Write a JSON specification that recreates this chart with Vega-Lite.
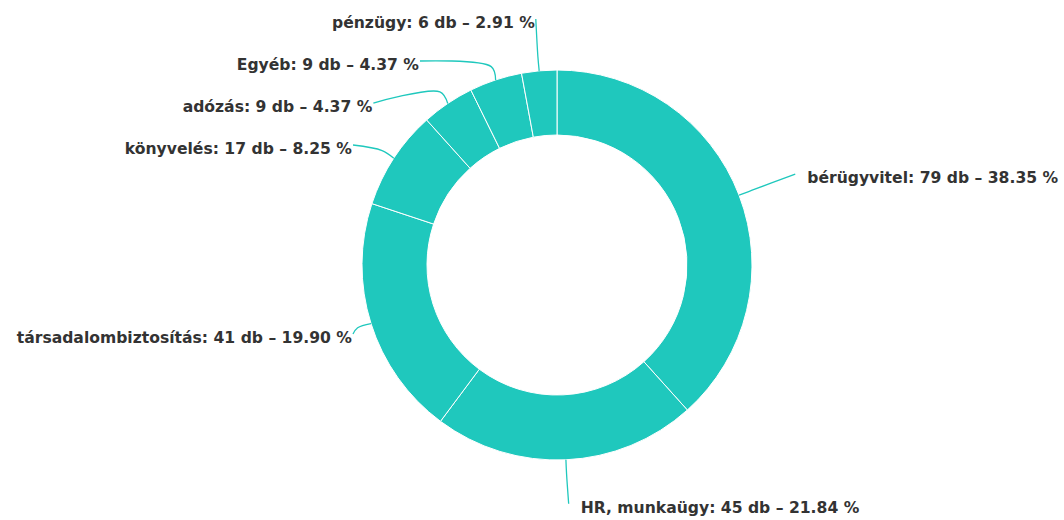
{
  "$schema": "https://vega.github.io/schema/vega-lite/v6.json",
  "width": 1000,
  "height": 500,
  "autosize": {"type": "none"},
  "padding": {"left": 57, "top": 15, "right": 7, "bottom": 5},
  "background": "white",
  "config": {"view": {"stroke": null}},
  "data": {
    "values": [
      {"kategoria": "bérügyvitel", "db": 79},
      {"kategoria": "HR, munkaügy", "db": 45},
      {"kategoria": "társadalombiztosítás", "db": 41},
      {"kategoria": "könyvelés", "db": 17},
      {"kategoria": "adózás", "db": 9},
      {"kategoria": "Egyéb", "db": 9},
      {"kategoria": "pénzügy", "db": 6}
    ]
  },
  "transform": [
    {"window": [{"op": "row_number", "as": "idx"}]},
    {"joinaggregate": [{"op": "sum", "field": "db", "as": "total"}]},
    {"window": [{"op": "sum", "field": "db", "as": "cum"}], "sort": [{"field": "idx"}], "frame": [null, 0]},
    {"calculate": "(datum.cum - datum.db/2)/datum.total*2*PI", "as": "mid"},
    {"calculate": "datum.kategoria + ': ' + datum.db + ' db – ' + format(datum.db/datum.total*100, '.2f') + ' %'", "as": "label"},
    {"calculate": "sin(datum.mid) >= 0 ? 'right' : 'left'", "as": "side"},
    {"calculate": "-243*cos(datum.mid)", "as": "ny"},
    {"window": [{"op": "row_number", "as": "j"}], "groupby": ["side"], "sort": [{"field": "ny"}]},
    {"calculate": "datum.ny - (datum.j-1)*42", "as": "k"},
    {"window": [{"op": "max", "field": "k", "as": "kmax"}], "groupby": ["side"], "sort": [{"field": "ny"}], "frame": [null, 0]},
    {"calculate": "datum.kmax + (datum.j-1)*42", "as": "ly"},
    {"calculate": "sqrt(max(243*243 - datum.ly*datum.ly, 0))", "as": "lw"},
    {"calculate": "datum.side == 'right' ? 1.05*datum.lw + 12 : -clamp(datum.lw, 16, 205)", "as": "lx"}
  ],
  "layer": [
    {
      "mark": {"type": "arc", "outerRadius": 195, "innerRadius": 130, "stroke": "white", "strokeWidth": 1, "color": "#1fc8bd"},
      "encoding": {
        "theta": {"field": "db", "type": "quantitative", "stack": true},
        "order": {"field": "idx", "type": "quantitative"}
      }
    },
    {
      "transform": [
        {"calculate": "195*sin(datum.mid)", "as": "x0"},
        {"calculate": "209*sin(datum.mid)", "as": "x1"},
        {"calculate": "datum.side == 'right' ? datum.lx - 12 : datum.lx + 1", "as": "x2"},
        {"calculate": "-195*cos(datum.mid)", "as": "y0"},
        {"calculate": "-209*cos(datum.mid)", "as": "y1"},
        {"calculate": "datum.ly - 4", "as": "y2"},
        {"fold": ["x0", "x1", "x2"], "as": ["pt", "cx"]},
        {"calculate": "datum.pt == 'x0' ? datum.y0 : (datum.pt == 'x1' ? datum.y1 : datum.y2)", "as": "cy"},
        {"calculate": "datum.pt == 'x0' ? 0 : (datum.pt == 'x1' ? 1 : 2)", "as": "ordr"}
      ],
      "mark": {"type": "line", "interpolate": "catmull-rom", "color": "#1fc8bd", "strokeWidth": 1.3},
      "encoding": {
        "x": {"field": "cx", "type": "quantitative", "scale": {"domain": [-500, 500], "nice": false, "zero": false}, "axis": null},
        "y": {"field": "cy", "type": "quantitative", "scale": {"domain": [-250, 250], "nice": false, "zero": false, "reverse": true}, "axis": null},
        "detail": {"field": "kategoria", "type": "nominal"},
        "order": {"field": "ordr", "type": "quantitative"}
      }
    },
    {
      "transform": [{"filter": "datum.side == 'left'"}],
      "mark": {"type": "text", "align": "right", "baseline": "middle", "font": "DejaVu Sans", "fontSize": 15.6, "fontWeight": "bold", "color": "#333333"},
      "encoding": {
        "x": {"field": "lx", "type": "quantitative", "scale": {"domain": [-500, 500], "nice": false, "zero": false}, "axis": null},
        "y": {"field": "ly", "type": "quantitative", "scale": {"domain": [-250, 250], "nice": false, "zero": false, "reverse": true}, "axis": null},
        "text": {"field": "label", "type": "nominal"}
      }
    },
    {
      "transform": [{"filter": "datum.side == 'right'"}],
      "mark": {"type": "text", "align": "left", "baseline": "middle", "font": "DejaVu Sans", "fontSize": 15.6, "fontWeight": "bold", "color": "#333333"},
      "encoding": {
        "x": {"field": "lx", "type": "quantitative", "scale": {"domain": [-500, 500], "nice": false, "zero": false}, "axis": null},
        "y": {"field": "ly", "type": "quantitative", "scale": {"domain": [-250, 250], "nice": false, "zero": false, "reverse": true}, "axis": null},
        "text": {"field": "label", "type": "nominal"}
      }
    }
  ]
}
